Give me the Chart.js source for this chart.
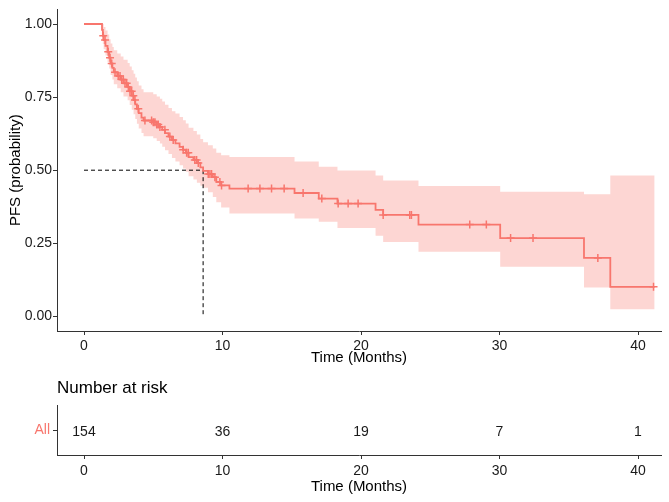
<!DOCTYPE html>
<html>
<head>
<meta charset="utf-8">
<script src="https://cdn.jsdelivr.net/npm/chart.js@4.4.1/dist/chart.umd.min.js"></script>
<style>
  html, body { margin: 0; padding: 0; background: #fff; }
  #wrap { position: relative; width: 669px; height: 502px; }
  #kmBox { position: absolute; left: 0; top: 0; width: 669px; height: 370px; }
  #riskBox { position: absolute; left: 0; top: 370px; width: 669px; height: 132px; }
</style>
</head>
<body>
<div id="wrap">
  <div id="kmBox"><canvas id="kmChart"></canvas></div>
  <div id="riskBox"><canvas id="riskChart"></canvas></div>
</div>
<script>
// Kaplan-Meier PFS curve with a number-at-risk table

const RED = '#F8766D';
const BAND = 'rgba(248, 118, 109, 0.3)';
const FONT = "'Liberation Sans', Arial, sans-serif";
const TEXT = '#1a1a1a';

// step function: time of each drop (months) and the estimate after it
const kmTimes = [0, 1.30, 1.36, 1.42, 1.55, 1.70, 1.82, 1.92, 2.05, 2.15,
    2.40, 2.65, 2.85, 3.15, 3.30, 3.45, 3.58, 3.70, 3.82, 3.95,
    4.15, 4.30, 5.00, 5.25, 5.48, 5.65, 5.85, 6.10, 6.35, 6.60,
    6.90, 7.15, 7.35, 7.55, 7.90, 8.15, 8.40, 8.60, 8.95, 9.30,
    9.55, 9.90, 10.50, 15.20, 16.95, 18.30, 21.05, 21.60, 24.15, 30.05,
    36.10, 38.00];
const kmSurv = [1.000, 0.980, 0.960, 0.945, 0.925, 0.905, 0.885, 0.865, 0.850, 0.835,
    0.822, 0.810, 0.797, 0.785, 0.770, 0.755, 0.740, 0.725, 0.710, 0.695,
    0.680, 0.670, 0.664, 0.656, 0.648, 0.638, 0.627, 0.615, 0.603, 0.592,
    0.580, 0.570, 0.560, 0.545, 0.535, 0.525, 0.510, 0.498, 0.487, 0.476,
    0.460, 0.448, 0.437, 0.422, 0.403, 0.386, 0.364, 0.347, 0.314, 0.268,
    0.200, 0.101];
const kmUpper = [1.000, 1.000, 1.000, 0.990, 0.978, 0.964, 0.948, 0.933, 0.921, 0.910,
    0.899, 0.889, 0.878, 0.867, 0.855, 0.842, 0.830, 0.817, 0.804, 0.790,
    0.777, 0.767, 0.760, 0.752, 0.744, 0.735, 0.724, 0.713, 0.702, 0.694,
    0.682, 0.671, 0.660, 0.645, 0.634, 0.622, 0.607, 0.596, 0.585, 0.574,
    0.560, 0.551, 0.545, 0.530, 0.512, 0.499, 0.482, 0.465, 0.446, 0.426,
    0.418, 0.482];
const kmLower = [1.000, 0.958, 0.932, 0.914, 0.892, 0.870, 0.848, 0.826, 0.810, 0.794,
    0.780, 0.767, 0.752, 0.739, 0.723, 0.707, 0.691, 0.675, 0.659, 0.643,
    0.627, 0.616, 0.609, 0.600, 0.591, 0.580, 0.568, 0.555, 0.542, 0.530,
    0.517, 0.506, 0.495, 0.479, 0.468, 0.457, 0.447, 0.440, 0.425, 0.408,
    0.390, 0.372, 0.352, 0.335, 0.324, 0.302, 0.276, 0.254, 0.221, 0.170,
    0.099, 0.024];
const kmEndTime = 41.2;

// censored observations (months)
const censorTimes = [1.39, 1.52, 1.75, 1.88, 2.00, 2.24, 2.47, 2.60, 2.72, 2.84,
    2.96, 3.08, 3.20, 3.32, 3.44, 3.56, 3.68, 3.92, 4.40, 4.88,
    5.00, 5.12, 5.25, 5.36, 5.48, 5.84, 6.20, 6.44, 7.16, 7.41,
    7.53, 8.00, 8.13, 8.25, 8.97, 9.09, 9.21, 9.45, 9.81, 9.93,
    11.85, 12.70, 13.54, 14.45, 15.82, 17.17, 18.35, 19.07, 19.79, 21.60,
    23.52, 23.64, 27.85, 29.05, 30.80, 32.42, 37.10, 41.12];

const medianTime = 8.6;
const medianSurv = 0.5;

const xTicks = [0, 10, 20, 30, 40];
const yTicks = [0, 0.25, 0.5, 0.75, 1];

const riskTimes = [0, 10, 20, 30, 40];
const riskCounts = [154, 36, 19, 7, 1];
const riskGroup = 'All';
const riskTitle = 'Number at risk';

function stepPoints(values) {
    const pts = kmTimes.map((t, i) => ({ x: t, y: values[i] }));
    pts.push({ x: kmEndTime, y: values[values.length - 1] });
    return pts;
}

function survAt(t) {
    let s = kmSurv[0];
    kmTimes.forEach((tt, i) => {
        if (tt <= t) s = kmSurv[i];
    });
    return s;
}

function xAxis(heightPx, titlePad, tickPad) {
    return {
        type: 'linear',
        min: -1.95,
        max: 41.66,
        afterBuildTicks: scale => { scale.ticks = xTicks.map(v => ({ value: v })); },
        afterFit: scale => { scale.height = heightPx; },
        grid: { drawOnChartArea: false, drawTicks: true, tickLength: 4, color: '#333' },
        border: { display: true, color: '#333', width: 1 },
        ticks: { color: TEXT, font: { family: FONT, size: 14 }, padding: tickPad, maxRotation: 0, autoSkip: false },
        title: { display: true, text: 'Time (Months)', color: '#000', font: { family: FONT, size: 15 }, padding: { top: 0, bottom: titlePad } }
    };
}

function createKmChart() {
    const ctx = document.getElementById('kmChart');
    new Chart(ctx, {
        type: 'line',
        data: {
            datasets: [
                {
                    data: stepPoints(kmLower),
                    stepped: true,
                    borderWidth: 0,
                    pointRadius: 0,
                    fill: false,
                    order: 4
                },
                {
                    data: stepPoints(kmUpper),
                    stepped: true,
                    borderWidth: 0,
                    pointRadius: 0,
                    backgroundColor: BAND,
                    fill: '-1',
                    order: 3
                },
                {
                    data: [{ x: 0, y: medianSurv }, { x: medianTime, y: medianSurv }],
                    borderColor: '#000',
                    borderWidth: 1,
                    borderDash: [4, 3],
                    pointRadius: 0,
                    fill: false,
                    order: 2
                },
                {
                    data: [{ x: medianTime, y: medianSurv }, { x: medianTime, y: 0 }],
                    borderColor: '#000',
                    borderWidth: 1,
                    borderDash: [4, 3],
                    pointRadius: 0,
                    fill: false,
                    order: 2
                },
                {
                    data: stepPoints(kmSurv),
                    stepped: true,
                    borderColor: RED,
                    borderWidth: 1.8,
                    pointRadius: 0,
                    fill: false,
                    order: 1
                },
                {
                    data: censorTimes.map(t => ({ x: t, y: survAt(t) })),
                    showLine: false,
                    pointStyle: 'cross',
                    pointRadius: 4,
                    borderColor: RED,
                    borderWidth: 1.5,
                    order: 0
                }
            ]
        },
        options: {
            responsive: true,
            maintainAspectRatio: false,
            animation: false,
            devicePixelRatio: 1,
            events: [],
            layout: { padding: { left: 0, right: 8, top: 5, bottom: 0 } },
            plugins: {
                legend: { display: false },
                tooltip: { enabled: false }
            },
            scales: {
                x: xAxis(39, 3, 3),
                y: {
                    type: 'linear',
                    min: -0.05,
                    max: 1.05,
                    afterBuildTicks: scale => { scale.ticks = yTicks.map(v => ({ value: v })); },
                    afterFit: scale => { scale.width = 57; },
                    grid: { drawOnChartArea: false, drawTicks: true, tickLength: 4, color: '#333' },
                    border: { display: true, color: '#333', width: 1 },
                    ticks: {
                        color: TEXT,
                        font: { family: FONT, size: 14 },
                        padding: 1,
                        callback: value => Number(value).toFixed(2)
                    },
                    title: { display: true, text: 'PFS (probability)', color: '#000', font: { family: FONT, size: 15 }, padding: { top: 7, bottom: 0 } }
                }
            }
        }
    });
}

// writes the counts at the dataset points and the heading above the table
const riskTextPlugin = {
    id: 'riskText',
    afterDatasetsDraw(chart) {
        const ctx = chart.ctx;
        const meta = chart.getDatasetMeta(0);
        ctx.save();
        ctx.fillStyle = TEXT;
        ctx.font = '14px ' + FONT;
        ctx.textAlign = 'center';
        ctx.textBaseline = 'middle';
        meta.data.forEach((pt, i) => {
            ctx.fillText(String(riskCounts[i]), pt.x, pt.y + 2);
        });
        ctx.fillStyle = '#000';
        ctx.font = '17px ' + FONT;
        ctx.textAlign = 'left';
        ctx.fillText(riskTitle, chart.chartArea.left, 18);
        ctx.restore();
    }
};

function createRiskTable() {
    const ctx = document.getElementById('riskChart');
    new Chart(ctx, {
        type: 'line',
        data: {
            datasets: [{
                data: riskTimes.map(t => ({ x: t, y: 0 })),
                showLine: false,
                pointRadius: 0
            }]
        },
        options: {
            responsive: true,
            maintainAspectRatio: false,
            animation: false,
            devicePixelRatio: 1,
            events: [],
            layout: { padding: { left: 0, right: 8, top: 35, bottom: 0 } },
            plugins: {
                legend: { display: false },
                tooltip: { enabled: false }
            },
            scales: {
                x: xAxis(47, 6, 4),
                y: {
                    type: 'linear',
                    min: -1,
                    max: 1,
                    afterBuildTicks: scale => { scale.ticks = [{ value: 0 }]; },
                    afterFit: scale => { scale.width = 57; },
                    grid: { drawOnChartArea: false, drawTicks: true, tickLength: 4, color: '#333' },
                    border: { display: true, color: '#333', width: 1 },
                    ticks: {
                        color: RED,
                        font: { family: FONT, size: 14 },
                        padding: 3,
                        callback: () => riskGroup
                    }
                }
            }
        },
        plugins: [riskTextPlugin]
    });
}

createKmChart();
createRiskTable();
</script>
</body>
</html>
